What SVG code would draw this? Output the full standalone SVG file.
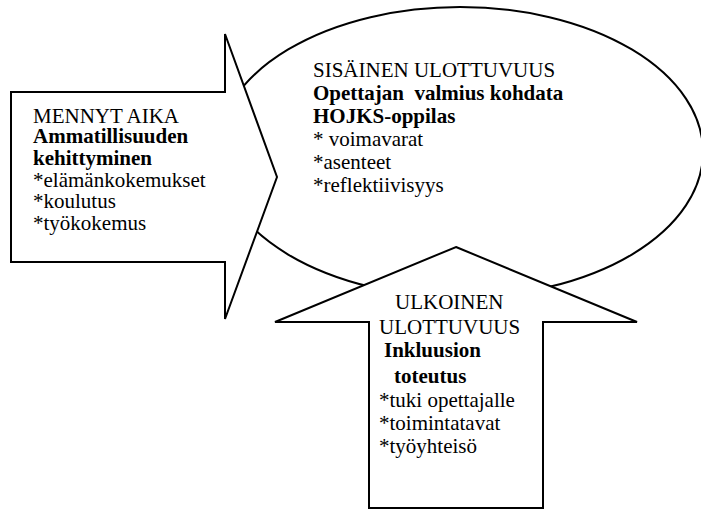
<svg xmlns="http://www.w3.org/2000/svg" width="701" height="510" viewBox="0 0 701 510">
<style>
.shape{fill:#fff;stroke:#000;stroke-width:2;stroke-linejoin:miter}
text{font-family:"Liberation Serif","Times New Roman",serif;font-size:21px;fill:#000}
.b{font-weight:bold}
</style>
<rect width="701" height="510" fill="#fff"/>
<g id="sisainen">
<ellipse class="shape" cx="460" cy="152" rx="243" ry="145"/>
<text x="313" y="77">SISÄINEN ULOTTUVUUS</text>
<text class="b" x="313" y="99.5" xml:space="preserve">Opettajan  valmius kohdata</text>
<text class="b" x="313" y="122.5">HOJKS-oppilas</text>
<text x="313" y="145.5" xml:space="preserve">* voimavarat</text>
<text x="313" y="169">*asenteet</text>
<text x="313" y="191.5">*reflektiivisyys</text>
</g>
<g id="mennyt">
<polygon class="shape" points="11,92 225,92 225,34 277,177 225,319 225,262 11,262"/>
<text x="33" y="123">MENNYT AIKA</text>
<text class="b" x="33" y="143">Ammatillisuuden</text>
<text class="b" x="33" y="165">kehittyminen</text>
<text x="33" y="187">*elämänkokemukset</text>
<text x="33" y="208">*koulutus</text>
<text x="33" y="230">*työkokemus</text>
</g>
<g id="ulkoinen">
<polygon class="shape" points="456,247 637,322 543,322 543,508 369,508 369,322 275,322"/>
<text x="395" y="309">ULKOINEN</text>
<text x="379" y="334">ULOTTUVUUS</text>
<text class="b" x="384" y="357">Inkluusion</text>
<text class="b" x="394" y="383">toteutus</text>
<text x="379" y="407">*tuki opettajalle</text>
<text x="379" y="430">*toimintatavat</text>
<text x="379" y="453">*työyhteisö</text>
</g>
<g id="connectors"></g>
</svg>
